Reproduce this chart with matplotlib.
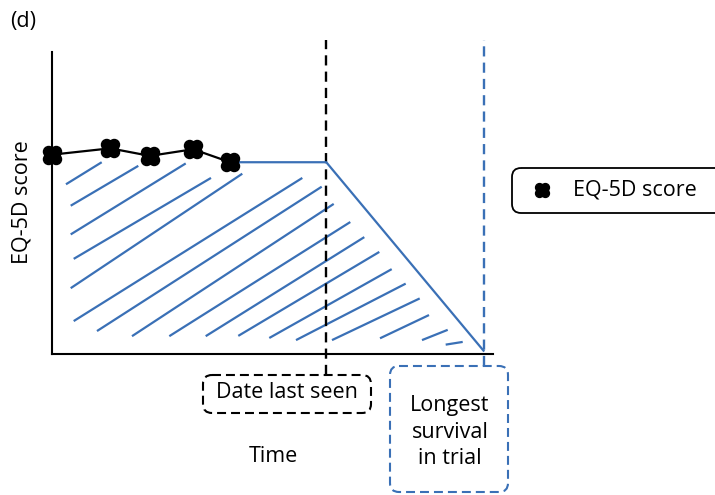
import numpy as np
import matplotlib
matplotlib.use("Agg")
import matplotlib.pyplot as plt
from matplotlib.path import Path
from matplotlib.patches import FancyBboxPatch

plt.rcParams['font.family'] = ['Open Sans', 'DejaVu Sans']

# Data (time on a 0-10 scale, score on a 0-1 scale) ############
obs_time = [0.0, 1.32, 2.22, 3.20, 4.04]
obs_score = [0.66, 0.681, 0.656, 0.678, 0.635]

t_last_seen = 6.22
t_longest = 9.785
score_end = 0.011

# hand drawn hatching of the area under the curve
hatch_x0 = [0.317, 0.424, 0.424, 0.492, 0.424, 0.492, 1.020, 1.814, 2.660,
            3.485, 4.224, 4.927, 5.533, 6.349, 7.438, 8.390, 8.927]
hatch_y0 = [0.562, 0.491, 0.396, 0.315, 0.218, 0.109, 0.076, 0.059, 0.059,
            0.059, 0.060, 0.053, 0.046, 0.046, 0.052, 0.046, 0.031]
hatch_x1 = [1.127, 1.957, 3.032, 3.605, 4.315, 5.676, 6.116, 6.388, 6.764,
            7.082, 7.422, 7.703, 8.020, 8.338, 8.549, 8.973, 9.313]
hatch_y1 = [0.635, 0.623, 0.631, 0.583, 0.597, 0.583, 0.554, 0.497, 0.437,
            0.387, 0.338, 0.281, 0.233, 0.184, 0.129, 0.080, 0.040]

legend_label = 'EQ-5D score'
y_label = 'EQ-5D score'
x_label = 'Time'
box_last = 'Date last seen'
box_longest = 'Longest\nsurvival\nin trial'
panel = '(d)'
#################################################################

blue = '#3a70b6'
FS = 15.5

# clover shaped marker: four overlapping discs + centre
r = 0.5
d = 0.36
marker = Path.make_compound_path(
    Path.circle((-d, d), r), Path.circle((d, d), r),
    Path.circle((-d, -d), r), Path.circle((d, -d), r),
    Path.circle((0, 0), 0.5))

W, H = 715, 495
fig = plt.figure(figsize=(W / 100, H / 100), dpi=100)

ax = fig.add_axes([52 / W, (H - 354) / H, 441 / W, 302 / H])
ax.set_xlim(0, 10)
ax.set_ylim(0, 1)
ax.spines[['top', 'right']].set_visible(False)
for s in ('left', 'bottom'):
    ax.spines[s].set_linewidth(1.5)
ax.set_xticks([])
ax.set_yticks([])
ax.patch.set_alpha(0)

# hatching
for x0, y0, x1, y1 in zip(hatch_x0, hatch_y0, hatch_x1, hatch_y1):
    ax.plot([x0, x1], [y0, y1], color=blue, lw=1.6, solid_capstyle='butt')

# extrapolated part
ax.plot([obs_time[-1], t_last_seen, t_longest],
        [obs_score[-1], obs_score[-1], score_end],
        color=blue, lw=1.6, zorder=3)

# vertical reference lines
ax.plot([t_last_seen, t_last_seen], [-0.07, 1.04], color='black', lw=1.7,
        dashes=(4.3, 2.6), clip_on=False, zorder=2)
ax.plot([t_longest, t_longest], [-0.04, 1.04], color=blue, lw=1.7,
        dashes=(4.3, 2.6), clip_on=False, zorder=2)

# observed scores
ax.plot(obs_time, obs_score, color='black', lw=1.6, marker=marker,
        markersize=13, markerfacecolor='black', markeredgecolor='black',
        clip_on=False, zorder=4)

# overlay in pixel coordinates for annotations
ov = fig.add_axes([0, 0, 1, 1])
ov.set_xlim(0, W)
ov.set_ylim(H, 0)
ov.axis('off')
ov.patch.set_alpha(0)

ov.text(10, 22, panel, fontsize=FS, va='center', ha='left')
ov.text(22, 202, y_label, fontsize=FS, rotation=90, va='center', ha='center')
ov.text(273, 457, x_label, fontsize=FS, va='center', ha='center')

dash = (0, (4.3, 2.4))
b1 = FancyBboxPatch((203, 375), 168, 38, boxstyle='round,pad=0,rounding_size=9',
                    fill=False, edgecolor='black', lw=1.5, linestyle=dash)
ov.add_patch(b1)
ov.text(287, 393, box_last, fontsize=FS, va='center', ha='center')

b2 = FancyBboxPatch((390, 366), 118, 126, boxstyle='round,pad=0,rounding_size=9',
                    fill=False, edgecolor=blue, lw=1.5, linestyle=dash)
ov.add_patch(b2)
ov.text(450, 432, box_longest, fontsize=FS, va='center', ha='center',
        linespacing=1.35)

# legend box
lg = FancyBboxPatch((512, 168), 230, 45, boxstyle='round,pad=0,rounding_size=9',
                    fill=False, edgecolor='black', lw=1.3, clip_on=False)
ov.add_patch(lg)
ov.plot([541.5], [190], marker=marker, markersize=10, color='black',
        linestyle='none')
ov.text(573, 190, legend_label, fontsize=FS, va='center', ha='left')

fig.savefig('out.png', dpi=100)
